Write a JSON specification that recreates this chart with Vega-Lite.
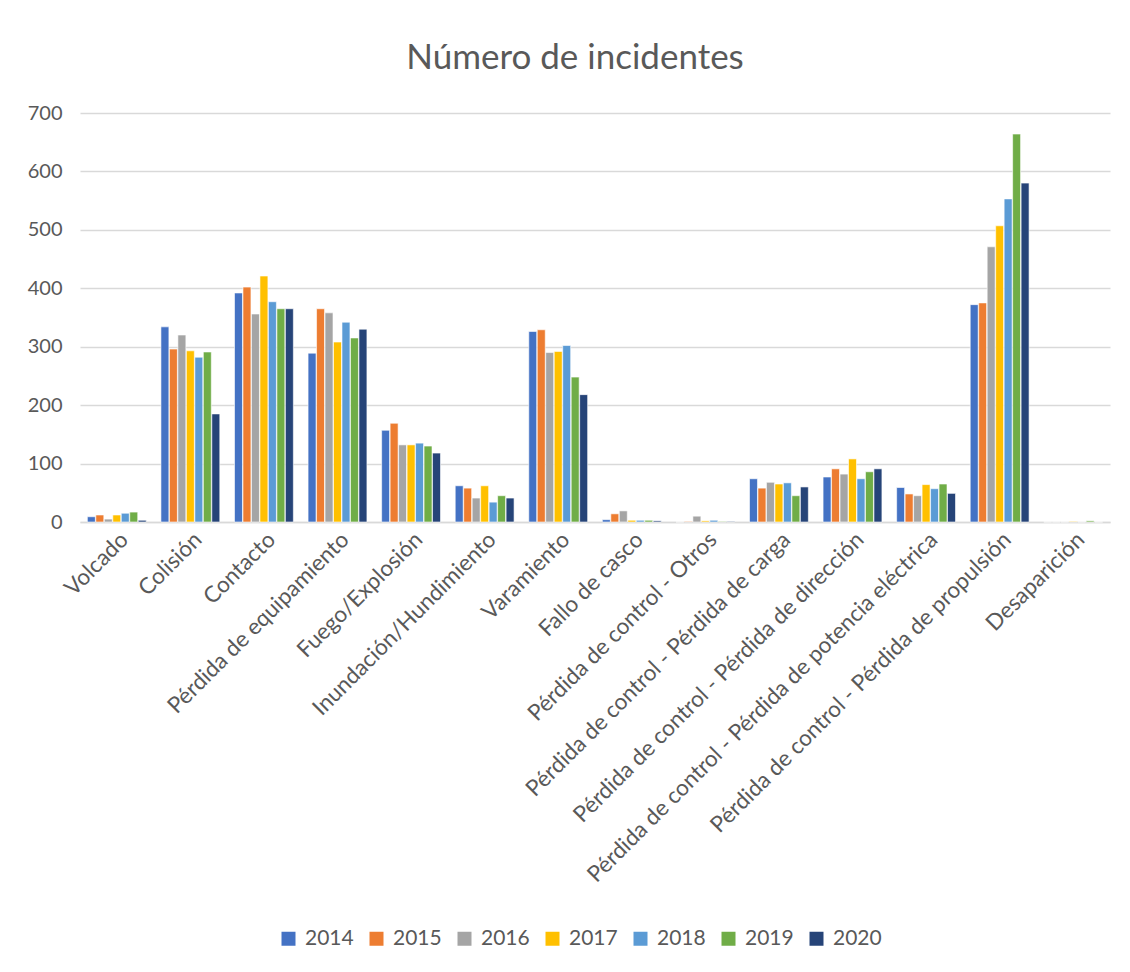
{
  "$schema": "https://vega.github.io/schema/vega-lite/v6.json",
  "autosize": {"type": "none"},
  "width": 1030,
  "height": 409,
  "padding": {"left": 80, "top": 113, "right": 20, "bottom": 450},
  "background": "white",
  "title": {
    "text": "Número de incidentes",
    "font": "Lato",
    "fontSize": 35,
    "fontWeight": "normal",
    "color": "#595959",
    "offset": 27,
    "dx": -20
  },
  "data": {
    "values": [
      {"tipo": "Volcado", "2014": 9, "2015": 12, "2016": 5, "2017": 12, "2018": 15, "2019": 17, "2020": 3},
      {"tipo": "Colisión", "2014": 334, "2015": 296, "2016": 320, "2017": 293, "2018": 282, "2019": 291, "2020": 185},
      {"tipo": "Contacto", "2014": 392, "2015": 402, "2016": 356, "2017": 421, "2018": 377, "2019": 365, "2020": 365},
      {"tipo": "Pérdida de equipamiento", "2014": 289, "2015": 365, "2016": 358, "2017": 308, "2018": 342, "2019": 315, "2020": 330},
      {"tipo": "Fuego/Explosión", "2014": 157, "2015": 169, "2016": 132, "2017": 132, "2018": 135, "2019": 130, "2020": 118},
      {"tipo": "Inundación/Hundimiento", "2014": 62, "2015": 58, "2016": 41, "2017": 62, "2018": 34, "2019": 45, "2020": 41},
      {"tipo": "Varamiento", "2014": 326, "2015": 329, "2016": 290, "2017": 292, "2018": 302, "2019": 248, "2020": 218},
      {"tipo": "Fallo de casco", "2014": 4, "2015": 14, "2016": 19, "2017": 3, "2018": 3, "2019": 3, "2020": 2},
      {"tipo": "Pérdida de control - Otros", "2014": 0, "2015": 1, "2016": 10, "2017": 2, "2018": 3, "2019": 1, "2020": 1},
      {"tipo": "Pérdida de control - Pérdida de carga", "2014": 74, "2015": 58, "2016": 68, "2017": 65, "2018": 67, "2019": 45, "2020": 60},
      {"tipo": "Pérdida de control - Pérdida de dirección", "2014": 77, "2015": 91, "2016": 82, "2017": 108, "2018": 74, "2019": 86, "2020": 91},
      {"tipo": "Pérdida de control - Pérdida de potencia eléctrica", "2014": 59, "2015": 48, "2016": 45, "2017": 64, "2018": 57, "2019": 65, "2020": 49},
      {"tipo": "Pérdida de control - Pérdida de propulsión", "2014": 372, "2015": 375, "2016": 471, "2017": 507, "2018": 553, "2019": 664, "2020": 580},
      {"tipo": "Desaparición", "2014": 0, "2015": 0, "2016": 0, "2017": 1, "2018": 0, "2019": 2, "2020": 0}
    ]
  },
  "transform": [
    {"fold": ["2014", "2015", "2016", "2017", "2018", "2019", "2020"], "as": ["anio", "incidentes"]}
  ],
  "mark": {"type": "bar", "stroke": "white", "strokeWidth": 0.6},
  "encoding": {
    "x": {
      "field": "tipo",
      "type": "nominal",
      "sort": null,
      "title": null,
      "scale": {"paddingInner": 0.2, "paddingOuter": 0.1},
      "axis": {
        "labelAngle": -45,
        "labelFont": "Lato",
        "labelFontSize": 22.5,
        "labelColor": "#595959",
        "labelLimit": 0,
        "labelPadding": 6,
        "ticks": false,
        "domainColor": "#D9D9D9",
        "domainWidth": 1.5
      }
    },
    "xOffset": {"field": "anio", "type": "nominal", "scale": {"paddingInner": 0.06}},
    "y": {
      "field": "incidentes",
      "type": "quantitative",
      "title": null,
      "scale": {"domain": [0, 700], "nice": false},
      "axis": {
        "values": [0, 100, 200, 300, 400, 500, 600, 700],
        "labelFont": "Lato",
        "labelFontSize": 20,
        "labelColor": "#595959",
        "labelPadding": 18,
        "ticks": false,
        "domain": false,
        "gridColor": "#D9D9D9",
        "gridWidth": 1.5
      }
    },
    "color": {
      "field": "anio",
      "type": "nominal",
      "title": null,
      "scale": {
        "domain": ["2014", "2015", "2016", "2017", "2018", "2019", "2020"],
        "range": ["#4472C4", "#ED7D31", "#A5A5A5", "#FFC000", "#5B9BD5", "#70AD47", "#264478"]
      },
      "legend": {
        "orient": "none",
        "legendX": 198,
        "legendY": 815,
        "direction": "horizontal",
        "symbolType": "square",
        "symbolSize": 196,
        "symbolStrokeWidth": 0,
        "labelFont": "Lato",
        "labelFontSize": 21,
        "labelColor": "#595959",
        "labelOffset": 6,
        "columnPadding": 12
      }
    }
  },
  "config": {
    "view": {"stroke": null}
  }
}
